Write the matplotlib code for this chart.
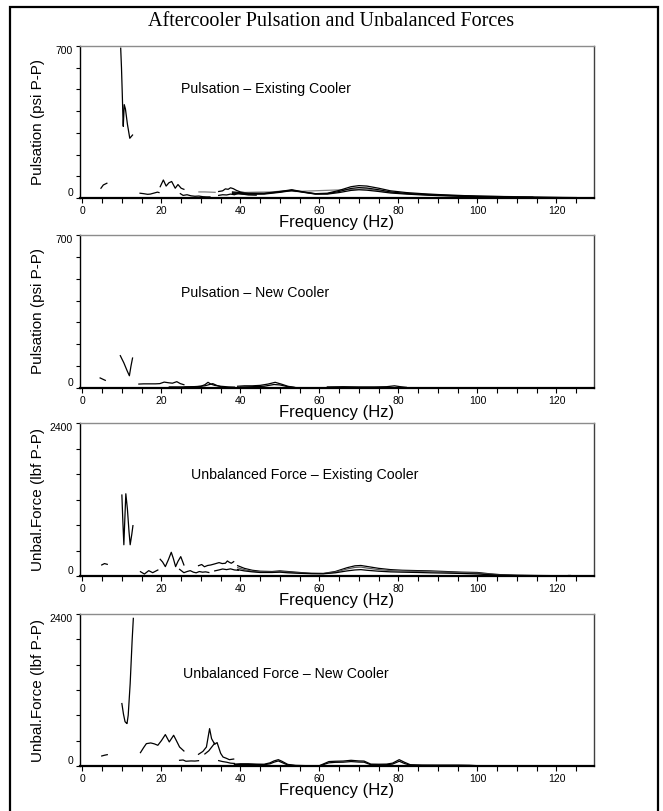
import matplotlib
matplotlib.use("Agg")
import matplotlib.pyplot as plt
from matplotlib.patches import Rectangle
from matplotlib.ticker import MultipleLocator

plt.rcParams['font.family'] = ['Liberation Sans', 'DejaVu Sans']

# ---- panel 1: pulsation, existing cooler (psi P-P) ----
p1_a_f = [4.7, 5.3, 6.2]
p1_a_v = [45, 60, 68]
p1_spike_f = [9.7, 9.9, 10.1, 10.3, 10.35, 10.6, 10.9, 11.4, 12.0, 12.7]
p1_spike_v = [690, 600, 480, 350, 330, 430, 410, 340, 275, 290]
p1_b_f = [14.6, 15.5, 16.5, 17.2, 18.0, 19.0, 19.4]
p1_b_v = [22, 20, 17, 18, 22, 27, 25]
p1_c_f = [19.7, 20.5, 21.2, 21.9, 22.6, 23.5, 24.2, 25.0, 25.7]
p1_c_v = [52, 83, 55, 70, 76, 45, 62, 45, 40]
p1_d_f = [24.8, 25.5, 26.5, 27.5, 28.5, 29.5, 30.5, 31.5, 32.3]
p1_d_v = [20, 12, 15, 10, 8, 9, 6, 5, 5]
p1_gray_f = [29.5, 31.0, 33.6]
p1_gray_v = [28, 28, 26]
p1_e_f = [34.5, 35.5, 36.2, 36.9, 37.5, 38.2, 39.0, 40.0, 42.0, 44.0]
p1_e_v = [30, 33, 42, 40, 47, 43, 35, 28, 22, 20]
p1_g_f = [34.5, 35.5, 36.5, 37.5, 38.5, 39.5, 40.5, 42.0, 44.0]
p1_g_v = [12, 15, 14, 18, 15, 22, 18, 14, 13]
p1_main_f = [38, 42, 46, 50, 53, 56, 59, 62, 65, 68, 70, 72, 75, 78, 82, 86, 90, 95, 100, 105, 110, 115, 120, 125]
p1_up_v = [28, 22, 22, 30, 38, 28, 20, 22, 35, 52, 57, 55, 45, 33, 25, 20, 16, 12, 9, 7, 5, 4, 3, 2]
p1_mid_v = [24, 20, 20, 28, 36, 27, 19, 20, 30, 44, 48, 46, 38, 28, 21, 17, 13, 10, 7, 5, 4, 3, 2, 1]
p1_low_v = [20, 17, 18, 26, 34, 26, 18, 18, 25, 35, 38, 36, 30, 23, 18, 14, 11, 8, 6, 4, 3, 2, 1, 1]
p1_gray2_f = [40, 44, 48, 51, 54, 72, 76, 80, 84, 88, 110, 114]
p1_gray2_v = [25, 27, 28, 33, 30, 42, 30, 22, 18, 14, 6, 6]

# ---- panel 2: pulsation, new cooler (psi P-P) ----
p2_a_f = [4.5, 5.2, 5.8]
p2_a_v = [46, 40, 35]
p2_v_f = [9.6, 10.5, 11.3, 11.9, 12.3, 12.7]
p2_v_v = [148, 115, 80, 56, 100, 137]
p2_b_f = [14.3, 15.5, 17.0, 18.5, 19.6, 20.7, 21.8, 22.8, 23.9, 24.8, 25.7]
p2_b_v = [18, 19, 19, 19, 20, 27, 24, 22, 29, 20, 15]
p2_c_f = [22, 25, 28, 30, 31, 31.8, 32.5, 33.5, 35, 37, 38.5]
p2_c_v = [5, 5, 6, 8, 15, 26, 18, 12, 8, 5, 4]
p2_d_f = [26, 29, 31, 33, 34, 35]
p2_d_v = [4, 6, 10, 20, 12, 6]
p2_e_f = [39.3, 41, 43, 45, 47, 48.8, 50.5, 52, 53.6]
p2_e_v = [8, 10, 10, 12, 18, 26, 17, 8, 3]
p2_g_f = [40, 43, 46, 48.5, 50, 52, 54]
p2_g_v = [4, 6, 8, 16, 14, 6, 2]
p2_h_f = [62, 66, 70, 74, 77, 79, 80.5, 82]
p2_h_v = [5, 6, 5, 5, 6, 10, 6, 3]

# ---- panel 3: unbalanced force, existing cooler (lbf P-P) ----
p3_a_f = [4.9, 5.6, 6.3]
p3_a_v = [173, 195, 183]
p3_osc_f = [10.0, 10.25, 10.5, 10.75, 11.0, 11.4, 11.8, 12.1, 12.5, 12.8]
p3_osc_v = [1270, 850, 490, 900, 1290, 1050, 700, 490, 650, 790]
p3_b_f = [14.7, 15.7, 16.8, 17.8, 19.1]
p3_b_v = [68, 31, 84, 52, 94]
p3_c_f = [19.7, 20.3, 21.0, 21.8, 22.5, 23.0, 23.6, 24.2, 24.9, 25.7]
p3_c_v = [262, 220, 147, 260, 372, 280, 147, 230, 304, 173]
p3_d_f = [24.6, 25.7, 26.5, 27.3, 28.1, 28.8, 29.6, 30.4, 31.2, 32.0]
p3_d_v = [105, 52, 70, 84, 60, 50, 70, 60, 65, 55]
p3_e_f = [29.4, 30.2, 30.9, 31.7, 32.5, 33.5, 34.6, 35.4, 36.2, 36.7, 37.2, 37.7, 38.3]
p3_e_v = [162, 180, 145, 165, 173, 190, 210, 195, 200, 236, 215, 200, 225]
p3_g_f = [33.5, 34.5, 35.5, 36.5, 37.5, 38.5, 39.5]
p3_g_v = [80, 94, 110, 100, 112, 95, 90]
p3_main_f = [39.3, 41, 43, 45, 48, 50, 52, 55, 58, 61, 64, 67, 69, 70.5, 72, 75, 78, 81, 85, 88, 92, 96, 100, 103, 106, 110, 115, 120]
p3_up_v = [162, 120, 90, 75, 70, 80, 70, 55, 42, 40, 70, 130, 160, 165, 150, 120, 100, 90, 84, 80, 70, 60, 55, 35, 20, 12, 8, 5]
p3_mid_v = [130, 100, 75, 65, 62, 70, 60, 48, 40, 38, 60, 110, 135, 140, 125, 100, 85, 78, 72, 68, 60, 52, 45, 28, 15, 9, 6, 4]
p3_low_v = [100, 80, 65, 55, 55, 60, 50, 42, 36, 35, 50, 80, 95, 100, 90, 75, 65, 60, 55, 50, 45, 40, 32, 20, 12, 7, 5, 3]
p3_tick_f = [122.8, 123.4]
p3_tick_v = [15, 15]

# ---- panel 4: unbalanced force, new cooler (lbf P-P) ----
p4_a_f = [4.9, 5.6, 6.3]
p4_a_v = [158, 170, 179]
p4_big_f = [10.0, 10.4, 10.8, 11.1, 11.3, 11.6, 12.1, 12.6, 12.9]
p4_big_v = [986, 820, 700, 680, 670, 800, 1303, 1989, 2331]
p4_b_f = [14.7, 15.5, 16.2, 17.3, 18.2, 19.1, 20.0, 21.0, 22.0, 23.1, 23.8, 24.6, 25.7]
p4_b_v = [211, 290, 353, 364, 350, 327, 400, 496, 380, 485, 400, 300, 237]
p4_c_f = [24.6, 25.5, 26.2, 27.5, 28.5, 29.4]
p4_c_v = [90, 95, 75, 80, 78, 84]
p4_d_f = [29.4, 30.5, 31.4, 32.2, 32.7, 33.5, 34.1, 35.0, 35.6, 36.5, 37.2, 38.3]
p4_d_v = [185, 230, 300, 590, 432, 343, 370, 200, 142, 120, 100, 110]
p4_e_f = [31.0, 32.0, 33.0, 33.5]
p4_e_v = [190, 240, 320, 360]
p4_g_f = [34.5, 35.5, 36.5, 37.5, 38.5]
p4_g_v = [85, 70, 60, 45, 40]
p4_main_f = [38.5, 40, 42, 44, 46, 47.5, 48.5, 49.6, 50.5, 52, 54, 57, 60, 62.4, 64, 66, 68, 70, 71.3, 73, 75, 77, 78.5, 80.2, 81.5, 83, 86, 90, 95, 98, 100, 105, 110, 115, 120, 124]
p4_up_v = [30, 35, 35, 30, 28, 50, 80, 100, 75, 25, 10, 5, 5, 70, 75, 78, 90, 80, 78, 30, 28, 30, 45, 100, 60, 20, 15, 14, 14, 12, 5, 3, 4, 2, 2, 1]
p4_low_v = [20, 25, 25, 22, 20, 35, 60, 80, 55, 15, 5, 2, 2, 50, 58, 60, 70, 62, 60, 20, 18, 20, 30, 75, 40, 12, 8, 8, 8, 6, 3, 2, 2, 1, 1, 0]

panels = [
    {"ymax": 700, "ystep": 100, "ylabel": "Pulsation (psi P-P)",
     "note": "Pulsation \u2013 Existing Cooler", "note_xy": (25, 500),
     "lines": [(p1_a_f, p1_a_v, "k"), (p1_spike_f, p1_spike_v, "k"), (p1_b_f, p1_b_v, "k"),
               (p1_c_f, p1_c_v, "k"), (p1_d_f, p1_d_v, "k"), (p1_gray_f, p1_gray_v, "0.5"),
               (p1_e_f, p1_e_v, "k"), (p1_g_f, p1_g_v, "k"), (p1_gray2_f, p1_gray2_v, "0.5"),
               (p1_main_f, p1_up_v, "k"), (p1_main_f, p1_mid_v, "k"), (p1_main_f, p1_low_v, "k")]},
    {"ymax": 700, "ystep": 100, "ylabel": "Pulsation (psi P-P)",
     "note": "Pulsation \u2013 New Cooler", "note_xy": (25, 434),
     "lines": [(p2_a_f, p2_a_v, "k"), (p2_v_f, p2_v_v, "k"), (p2_b_f, p2_b_v, "k"),
               (p2_c_f, p2_c_v, "k"), (p2_d_f, p2_d_v, "k"), (p2_e_f, p2_e_v, "k"),
               (p2_g_f, p2_g_v, "k"), (p2_h_f, p2_h_v, "k")]},
    {"ymax": 2400, "ystep": 400, "ylabel": "Unbal.Force (lbf P-P)",
     "note": "Unbalanced Force \u2013 Existing Cooler", "note_xy": (27.5, 1590),
     "lines": [(p3_a_f, p3_a_v, "k"), (p3_osc_f, p3_osc_v, "k"), (p3_b_f, p3_b_v, "k"),
               (p3_c_f, p3_c_v, "k"), (p3_d_f, p3_d_v, "k"), (p3_e_f, p3_e_v, "k"),
               (p3_g_f, p3_g_v, "k"), (p3_main_f, p3_up_v, "k"), (p3_main_f, p3_mid_v, "0.35"),
               (p3_main_f, p3_low_v, "k"), (p3_tick_f, p3_tick_v, "k")]},
    {"ymax": 2400, "ystep": 400, "ylabel": "Unbal.Force (lbf P-P)",
     "note": "Unbalanced Force \u2013 New Cooler", "note_xy": (25.4, 1460),
     "lines": [(p4_a_f, p4_a_v, "k"), (p4_big_f, p4_big_v, "k"), (p4_b_f, p4_b_v, "k"),
               (p4_c_f, p4_c_v, "k"), (p4_d_f, p4_d_v, "k"), (p4_e_f, p4_e_v, "k"),
               (p4_g_f, p4_g_v, "k"), (p4_main_f, p4_up_v, "k"), (p4_main_f, p4_low_v, "k")]},
]

# axes boxes in pixels: (top, bottom)
W, H = 663, 811
boxes = [(46, 198), (235, 388), (423, 576), (614, 766)]
left_px, right_px = 80, 594

fig = plt.figure(figsize=(W / 100, H / 100), dpi=100)

# outer frame and title
fig.add_artist(Rectangle((10 / W, -0.01), 648 / W, 1 - 7 / H + 0.01, transform=fig.transFigure,
                         fill=False, edgecolor="k", linewidth=1.6))
fig.text(0.5, 1 - 22 / H, "Aftercooler Pulsation and Unbalanced Forces",
         family="Liberation Serif", fontsize=14.5, ha="center", va="center")

for (top, bot), p in zip(boxes, panels):
    ax = fig.add_axes([left_px / W, 1 - bot / H, (right_px - left_px) / W, (bot - top) / H])
    for f, v, c in p["lines"]:
        ax.plot(f, v, color=c, linewidth=0.9)

    ax.set_xlim(-0.6, 129.5)
    ax.set_ylim(0, p["ymax"])

    ax.xaxis.set_major_locator(MultipleLocator(20))
    ax.xaxis.set_minor_locator(MultipleLocator(5))
    ax.tick_params(axis="x", which="both", direction="out", length=3.5, width=0.8,
                   labelsize=7.5, pad=2)
    yt = list(range(0, p["ymax"] + 1, p["ystep"]))
    ax.set_yticks(yt)
    ax.set_yticklabels([str(t) if t in (0, p["ymax"]) else "" for t in yt])
    ax.tick_params(axis="y", direction="out", length=3, width=0.8, labelsize=7.5, pad=2)
    labs = ax.get_yticklabels()
    labs[0].set_va("bottom")
    labs[-1].set_va("top")

    for s in ["left", "bottom"]:
        ax.spines[s].set_color("k")
    ax.spines["bottom"].set_linewidth(1.6)
    ax.spines["left"].set_linewidth(1.0)
    ax.spines["top"].set_color("0.55")
    ax.spines["top"].set_linewidth(1.0)
    ax.spines["right"].set_color("0.25")
    ax.spines["right"].set_linewidth(1.0)

    ax.set_xlabel("Frequency (Hz)", fontsize=12)
    ax.xaxis.set_label_coords(0.5, -17 / (bot - top))
    ax.set_ylabel(p["ylabel"], fontsize=11)
    ax.yaxis.set_label_coords(-35 / (right_px - left_px), 0.5)

    ax.text(p["note_xy"][0], p["note_xy"][1], p["note"], fontsize=10.2, va="center", ha="left")

fig.savefig("out.png", dpi=100)
